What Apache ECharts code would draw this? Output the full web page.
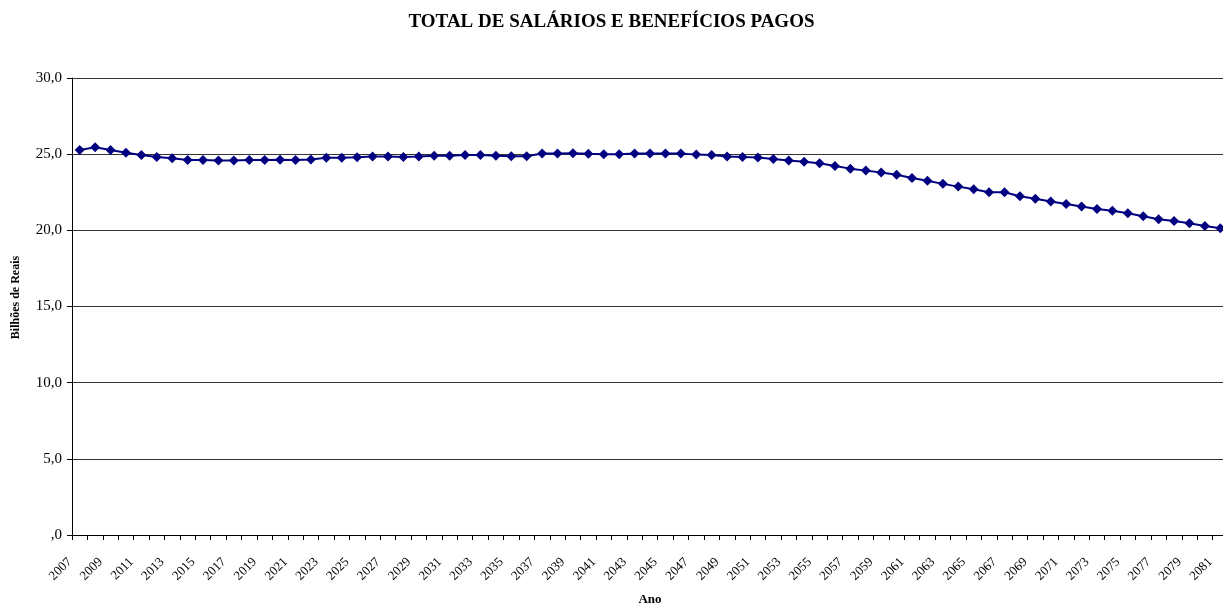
<!DOCTYPE html>
<html>
<head>
<meta charset="utf-8">
<script src="https://cdn.jsdelivr.net/npm/echarts@6/dist/echarts.min.js"></script>
<style>
  html, body { margin: 0; padding: 0; background: #fff; }
  #main { width: 1223px; height: 606px; }
</style>
</head>
<body>
<div id="main"></div>
<script>
// anos 2007..2081
var anos = [];
for (var a = 2007; a <= 2081; a++) anos.push(String(a));

// total de salários e benefícios pagos (bilhões de reais)
var valores = [
  25.28, 25.45, 25.28, 25.10, 24.95, 24.82, 24.73, 24.62, 24.62, 24.58,
  24.58, 24.62, 24.62, 24.63, 24.62, 24.65, 24.77, 24.77, 24.80, 24.84,
  24.84, 24.82, 24.84, 24.90, 24.90, 24.95, 24.95, 24.90, 24.86, 24.86,
  25.04, 25.04, 25.06, 25.02, 25.00, 25.00, 25.04, 25.04, 25.04, 25.04,
  24.97, 24.95, 24.84, 24.82, 24.78, 24.69, 24.58, 24.50, 24.40, 24.23,
  24.05, 23.92, 23.79, 23.65, 23.44, 23.26, 23.05, 22.87, 22.70, 22.50,
  22.50, 22.24, 22.08, 21.89, 21.73, 21.56, 21.40, 21.29, 21.12, 20.92,
  20.73, 20.62, 20.47, 20.29, 20.14
];

var fonte = '"Liberation Serif", "Times New Roman", serif';

var chart = echarts.init(document.getElementById('main'));
var option = {
  animation: false,
  title: {
    text: 'TOTAL DE SALÁRIOS E BENEFÍCIOS PAGOS',
    left: 'center',
    top: 8,
    textStyle: { fontFamily: fonte, fontSize: 19, fontWeight: 'bold', color: '#000' }
  },
  grid: { left: 72, top: 78, bottom: 71, width: 1156, outerBoundsMode: 'none', containLabel: false },
  xAxis: {
    type: 'category',
    data: anos,
    boundaryGap: true,
    name: 'Ano',
    nameLocation: 'middle',
    nameGap: 58,
    nameTextStyle: { fontFamily: fonte, fontSize: 13, fontWeight: 'bold', color: '#000' },
    axisLine: { lineStyle: { color: '#000', width: 1 } },
    axisTick: { show: true, interval: 0, length: 5, lineStyle: { color: '#000' } },
    axisLabel: {
      interval: 1,
      rotate: 45,
      margin: 15,
      padding: [0, 14, 0, 0],
      fontFamily: fonte,
      fontSize: 13,
      color: '#000'
    },
    splitLine: { show: false }
  },
  yAxis: {
    type: 'value',
    min: 0,
    max: 30,
    interval: 5,
    name: 'Bilhões de Reais',
    nameLocation: 'middle',
    nameGap: 50,
    nameTextStyle: { fontFamily: fonte, fontSize: 12, fontWeight: 'bold', color: '#000', padding: [0, 0, 0, 18] },
    axisLine: { show: true, lineStyle: { color: '#000', width: 1 } },
    axisTick: { show: true, length: 5, lineStyle: { color: '#000' } },
    axisLabel: {
      fontFamily: fonte,
      fontSize: 15,
      color: '#000',
      margin: 10,
      formatter: function (v) {
        return v === 0 ? ',0' : v.toFixed(1).replace('.', ',');
      }
    },
    splitLine: { show: true, lineStyle: { color: '#333', width: 1 } }
  },
  series: [{
    type: 'line',
    data: valores,
    symbol: 'diamond',
    symbolSize: 10,
    showSymbol: true,
    lineStyle: { color: '#000080', width: 2 },
    itemStyle: { color: '#000080' }
  }]
};
chart.setOption(option);
</script>
</body>
</html>
